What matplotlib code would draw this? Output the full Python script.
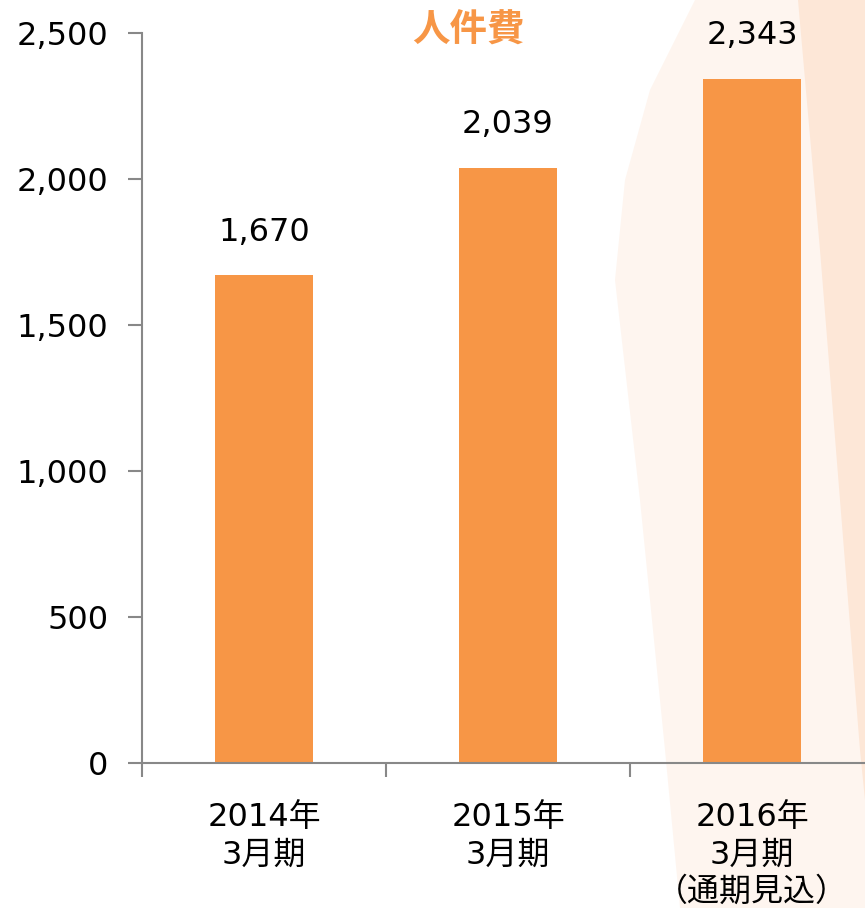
import matplotlib
matplotlib.use("Agg")
import matplotlib.pyplot as plt
from matplotlib.patches import Polygon

categories = ["2014年\n3月期", "2015年\n3月期", "2016年\n3月期\n（通期見込）"]
values = [1670, 2039, 2343]
value_labels = ["1,670", "2,039", "2,343"]
yticks = [0, 500, 1000, 1500, 2000, 2500]
ytick_labels = ["0", "500", "1,000", "1,500", "2,000", "2,500"]
title = "人件費"

FAM = ["DejaVu Sans", "Noto Sans CJK JP"]
plt.rcParams["font.family"] = FAM

fig = plt.figure(figsize=(8.65, 9.08), dpi=100)
fig.patch.set_facecolor("white")

# decorative faint background shapes (figure coords)
W, H = 865, 908
def fp(pts):
    return [(x / W, 1 - y / H) for x, y in pts]
fig.patches.append(Polygon(fp([(695, 0), (865, 0), (865, 908), (680, 908), (665, 750), (640, 500),
                               (615, 280), (625, 180), (650, 90)]),
                           closed=True, transform=fig.transFigure, facecolor="#fef5ef", edgecolor="none", zorder=-2))
fig.patches.append(Polygon(fp([(798, 0), (865, 0), (865, 800), (860, 750), (840, 500), (820, 250)]),
                           closed=True, transform=fig.transFigure, facecolor="#fde7d7", edgecolor="none", zorder=-1))

ax = fig.add_axes([142 / W, 1 - 763 / H, 732 / W, (763 - 33) / H])
ax.set_facecolor("none")

x = list(range(len(categories)))
bars = ax.bar(x, values, width=0.4, color="#F79646", zorder=2)
for xi, v, lab in zip(x, values, value_labels):
    ax.annotate(lab, (xi, v), xytext=(0, 31), textcoords="offset points",
                ha="center", va="center", fontsize=23, color="black")

ax.set_xlim(-0.5, 2.5)
ax.set_ylim(0, 2500)
ax.set_yticks(yticks)
ax.set_yticklabels(ytick_labels, fontsize=23)
ax.set_xticks(x)
ax.set_xticklabels(categories, fontsize=23, linespacing=1.27, va="top")
ax.set_xticks([-0.5, 0.5, 1.5, 2.5], minor=True)
ax.tick_params(axis="x", which="major", length=0, pad=28)
ax.tick_params(axis="x", which="minor", length=10, width=1.5, color="#888888", direction="out")
ax.tick_params(axis="y", length=10, width=1.5, color="#888888", direction="out", pad=14)

for s in ["top", "right"]:
    ax.spines[s].set_visible(False)
for s in ["left", "bottom"]:
    ax.spines[s].set_color("#888888")
    ax.spines[s].set_linewidth(1.5)

fig.text(468 / W, 1 - 30 / H, title, ha="center", va="center", fontsize=27,
         fontweight="bold", color="#F79646", family=["Noto Sans CJK JP"])

fig.savefig("out.png", dpi=100)
